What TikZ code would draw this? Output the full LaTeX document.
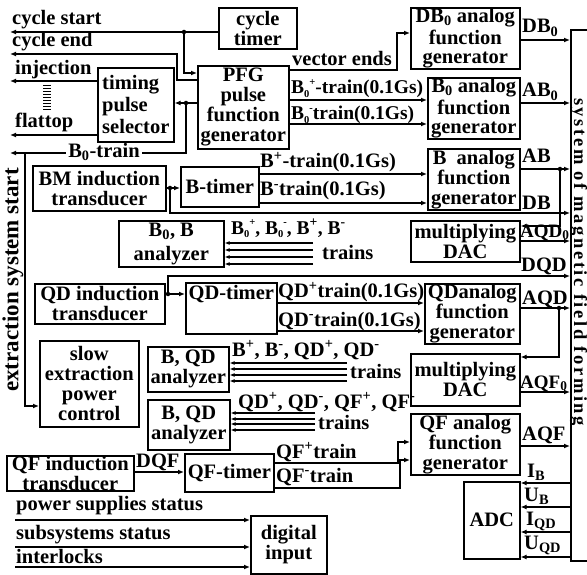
\documentclass[tikz,border=0pt]{standalone}
\usepackage{fontspec}
\setmainfont{Liberation Serif}
\newfontfamily\rotfam[LetterSpace=14]{Liberation Serif}
\usetikzlibrary{arrows.meta}
\newcommand\bfnt{\fontsize{20.5}{20}\selectfont\bfseries}
\newcommand\rotfnt{\fontsize{23}{23}\selectfont\bfseries}
\newcommand\sysfnt{\rotfam\fontsize{18.5}{18.5}\selectfont\bfseries}
\newcommand\smf{\fontsize{10.5}{10.5}\selectfont}
\newcommand\spm[2]{\raisebox{-4pt}{\smf #2}\raisebox{8.2pt}{\smf #1}}
\newcommand\sps[1]{\textsuperscript{#1}}
\newcommand\sbs[1]{\textsubscript{#1}}
\newcommand\bx[7][]{\node[box,#1,anchor=north west,minimum width=#4pt-#2pt,minimum height=#5pt-#3pt] (#6) at (#2,#3) {#7};}
\tikzset{
  box/.style={draw,line width=1.6pt,inner sep=0pt,align=center,font=\bfnt},
  lbl/.style={inner sep=0pt,anchor=base west,font=\bfnt},
  ln/.style={line width=1.6pt},
  arr/.style={ln,-{Latex[length=6pt,width=5pt]}},
  tarr/.style={line width=1.8pt,-{Latex[length=5pt,width=4pt]}},
  jdot/.style={circle,fill,inner sep=0pt,minimum size=4.5pt},
}
\begin{document}
\begin{tikzpicture}[x=1pt,y=-1pt]
\useasboundingbox (0,0) rectangle (587,575);
% boxes
\bx{218}{7}{296}{48}{ctimer}{cycle\\timer}
\bx[align=left]{97}{67}{173}{141}{tps}{timing\\[2pt]pulse\\[2pt]selector}
\bx{197}{65}{288}{148}{pfg}{PFG\\pulse\\function\\generator}
\bx{410}{7}{519}{68}{dbgen}{DB\sbs{0} analog\\[2pt]function\\[-0.5pt]generator}
\bx{427}{77}{519}{138}{bzgen}{B\sbs{0} analog\\[2pt]function\\[-0.5pt]generator}
\bx{427}{148}{519}{209}{bgen}{B\enspace analog\\function\\generator}
\bx{410}{220}{519}{261}{dacA}{multiplying\\DAC}
\bx{32}{165}{165}{210}{bm}{BM induction\\transducer}
\bx{180}{166}{258}{206}{btimer}{B-timer}
\bx{118}{220}{223}{266}{anaA}{B\sbs{0}, B\\[4pt]analyzer}
\bx{34}{283}{164}{323}{qdtr}{QD induction\\transducer}
\bx{185}{282}{276}{333}{qdtimer}{QD-timer\\[12pt]~}
\bx{424}{283}{519}{343}{qdgen}{QDanalog\\function\\generator}
\bx{410}{353}{519}{405}{dacB}{multiplying\\DAC}
\bx{39}{340}{138}{426}{slow}{slow\\extraction\\power\\control}
\bx{147}{346}{228}{391}{anaB}{B, QD\\analyzer}
\bx{147}{399}{229}{449}{anaC}{B, QD\\analyzer}
\bx{6}{455}{133}{490}{qftr}{QF induction\\transducer}
\bx{184}{453}{273}{491}{qftimer}{QF-timer}
\bx{410}{413}{519}{474}{qfgen}{QF analog\\function\\generator}
\bx{463}{481}{519}{558}{adc}{ADC}
\bx{250}{515}{326}{573}{dig}{digital\\input}
\bx{570}{29}{600}{560}{sys}{}
\node[font=\sysfnt,rotate=-90,inner sep=0pt] (systxt) at (578.5,262) {system of magnetic field forming};
% free ends
\coordinate (cs) at (10,32);
\coordinate (ce) at (10,54);
\coordinate (inj) at (10,81);
\coordinate (ft) at (10,135);
\coordinate (bt) at (10,153);
\coordinate (es) at (25,153);
% junction dots
\node[jdot] (j1) at (184,32) {};
\node[jdot] (j2) at (186,103) {};
\node[jdot] (j3) at (170,188) {};
\node[jdot] (j4) at (560,169) {};
\node[jdot] (j5) at (168,294) {};
\node[jdot] (j6) at (559,308) {};
% left top connectors
\draw[arr] (ctimer.west |- cs) -- (cs);
\draw[arr] (j1.center) -- (184,73) -- (pfg.west |- 0,73);
\draw[arr] (pfg.west |- 0,80) -- (177,80) -- (177,54) -- (ce);
\draw[arr] (tps.west |- inj) -- (inj);
\draw[arr] (tps.west |- ft) -- (ft);
\draw[line width=8pt,dash pattern=on 1.4pt off 1.6pt] (47,85) -- (47,111);
\draw[arr] (pfg.west |- j2) -- (tps.east |- j2);
\draw[arr] (j2.center) -- (186,153) -- (bt);
\node[lbl,anchor=center,fill=white,inner xsep=2pt] (b0lbl) at (104,152) {B\sbs{0}-train};
\draw[arr] (es) -- (25,406) -- (slow.west |- 0,406);
\node[font=\rotfnt,rotate=90,inner sep=0pt] (estxt) at (13,280) {extraction system start};
% PFG outputs
\draw[arr] (pfg.east |- 0,70) -- (397,70) -- (397,33) -- (dbgen.west |- 0,33);
\draw[arr] (pfg.east |- 0,100) -- (bzgen.west |- 0,100);
\draw[arr] (pfg.east |- 0,124) -- (bzgen.west |- 0,124);
\draw[arr] (dbgen.east |- 0,40) -- (sys.west |- 0,40);
\draw[arr] (bzgen.east |- 0,103) -- (sys.west |- 0,103);
% B chain
\draw[arr] (bm.east |- j3) -- (btimer.west |- j3);
\draw[arr] (j3.center) -- (170,213) -- (sys.west |- 0,213);
\draw[arr] (btimer.east |- 0,174) -- (bgen.west |- 0,174);
\draw[arr] (btimer.east |- 0,203) -- (bgen.west |- 0,203);
\draw[arr] (bgen.east |- j4) -- (sys.west |- j4);
\draw[arr] (j4.center) -- (560,226) -- (dacA.east |- 0,226);
\draw[arr] (dacA.east |- 0,241) -- (sys.west |- 0,241);
% QD chain
\draw[arr] (qdtr.east |- j5) -- (qdtimer.west |- j5);
\draw[arr] (j5.center) -- (168,276) -- (sys.west |- 0,276);
\draw[arr] (qdtimer.east |- 0,303) -- (qdgen.west |- 0,303);
\draw[arr] (qdtimer.east |- 0,331) -- (qdgen.west |- 0,331);
\draw[arr] (qdgen.east |- j6) -- (sys.west |- j6);
\draw[arr] (j6.center) -- (559,357) -- (dacB.east |- 0,357);
\draw[arr] (dacB.east |- 0,392) -- (sys.west |- 0,392);
% trains into analyzers
\foreach \y in {243,250,257,264} \draw[tarr] (313,\y) -- (anaA.east |- 0,\y);
\foreach \y in {363,369,375,381} \draw[tarr] (347,\y) -- (anaB.east |- 0,\y);
\foreach \y in {413,419,424,430} \draw[tarr] (315,\y) -- (anaC.east |- 0,\y);
% QF chain
\draw[arr] (qftr.east |- 0,472) -- (qftimer.west |- 0,472);
\draw[arr] (qftimer.east |- 0,463) -- (398,463) -- (398,442) -- (qfgen.west |- 0,442);
\draw[arr] (qftimer.east |- 0,488) -- (400,488) -- (400,460) -- (qfgen.west |- 0,460);
\draw[arr] (qfgen.east |- 0,446) -- (sys.west |- 0,446);
% ADC
\foreach \y in {483,507,532,557} \draw[arr] (sys.west |- 0,\y) -- (adc.east |- 0,\y);
% digital input
\coordinate (ps) at (15,520);
\coordinate (ss) at (15,547);
\coordinate (il) at (15,567);
\draw[arr] (ps) -- (dig.west |- ps);
\draw[arr] (ss) -- (dig.west |- ss);
\draw[arr] (il) -- (dig.west |- il);
% labels
\node[lbl] (l1) at (12,25) {cycle start};
\node[lbl] (l2) at (12,47) {cycle end};
\node[lbl] (l3) at (15,75) {injection};
\node[lbl] (l4) at (15,128) {flattop};
\node[lbl] (l5) at (292,66) {vector ends};
\node[lbl,font=\fontsize{19.5}{19.5}\selectfont\bfseries] (l6) at (291,94) {B\spm{+}{0}-train(0.1Gs)};
\node[lbl,font=\fontsize{19.5}{19.5}\selectfont\bfseries] (l7) at (291,119.5) {B\spm{-}{0}train(0.1Gs)};
\node[lbl] (l8) at (522,33) {DB\sbs{0}};
\node[lbl] (l9) at (522,97) {AB\sbs{0}};
\node[lbl] (l10) at (260,168) {B\sps{+}-train(0.1Gs)};
\node[lbl] (l11) at (260,196) {B\sps{-}train(0.1Gs)};
\node[lbl] (l12) at (522,163) {AB};
\node[lbl] (l13) at (522,210) {DB};
\node[lbl,font=\fontsize{19}{19}\selectfont\bfseries] (l14) at (520,237) {AQD\sbs{0}};
\node[lbl] (l15) at (521,272) {DQD};
\node[lbl,font=\fontsize{19.5}{19.5}\selectfont\bfseries] (l16) at (231,234) {B\spm{+}{0}, B\spm{-}{0}, B\sps{+}, B\sps{-}};
\node[lbl] (l17) at (322,259) {trains};
\node[lbl] (l18) at (278,298) {QD\sps{+}train(0.1Gs)};
\node[lbl] (l19) at (278,326) {QD\sps{-}train(0.1Gs)};
\node[lbl] (l20) at (522,304) {AQD};
\node[lbl] (l21) at (232,356) {B\sps{+}, B\sps{-}, QD\sps{+}, QD\sps{-}};
\node[lbl] (l22) at (350,378) {trains};
\node[lbl] (l23) at (238,408) {QD\sps{+}, QD\sps{-}, QF\sps{+}, QF\sps{-}};
\node[lbl] (l24) at (318,429) {trains};
\node[lbl,font=\fontsize{19}{19}\selectfont\bfseries] (l25) at (520,388) {AQF\sbs{0}};
\node[lbl] (l26) at (136,467) {DQF};
\node[lbl] (l27) at (276,458) {QF\sps{+}train};
\node[lbl] (l28) at (276,482) {QF\sps{-}train};
\node[lbl] (l29) at (522,440) {AQF};
\node[lbl] (l30) at (527,477) {I\sbs{B}};
\node[lbl] (l31) at (524,501) {U\sbs{B}};
\node[lbl] (l32) at (526,525) {I\sbs{QD}};
\node[lbl] (l33) at (524,549) {U\sbs{QD}};
\node[lbl] (l34) at (16,510) {power supplies status};
\node[lbl] (l35) at (16,539) {subsystems status};
\node[lbl] (l36) at (16,563) {interlocks};
\end{tikzpicture}
\end{document}
